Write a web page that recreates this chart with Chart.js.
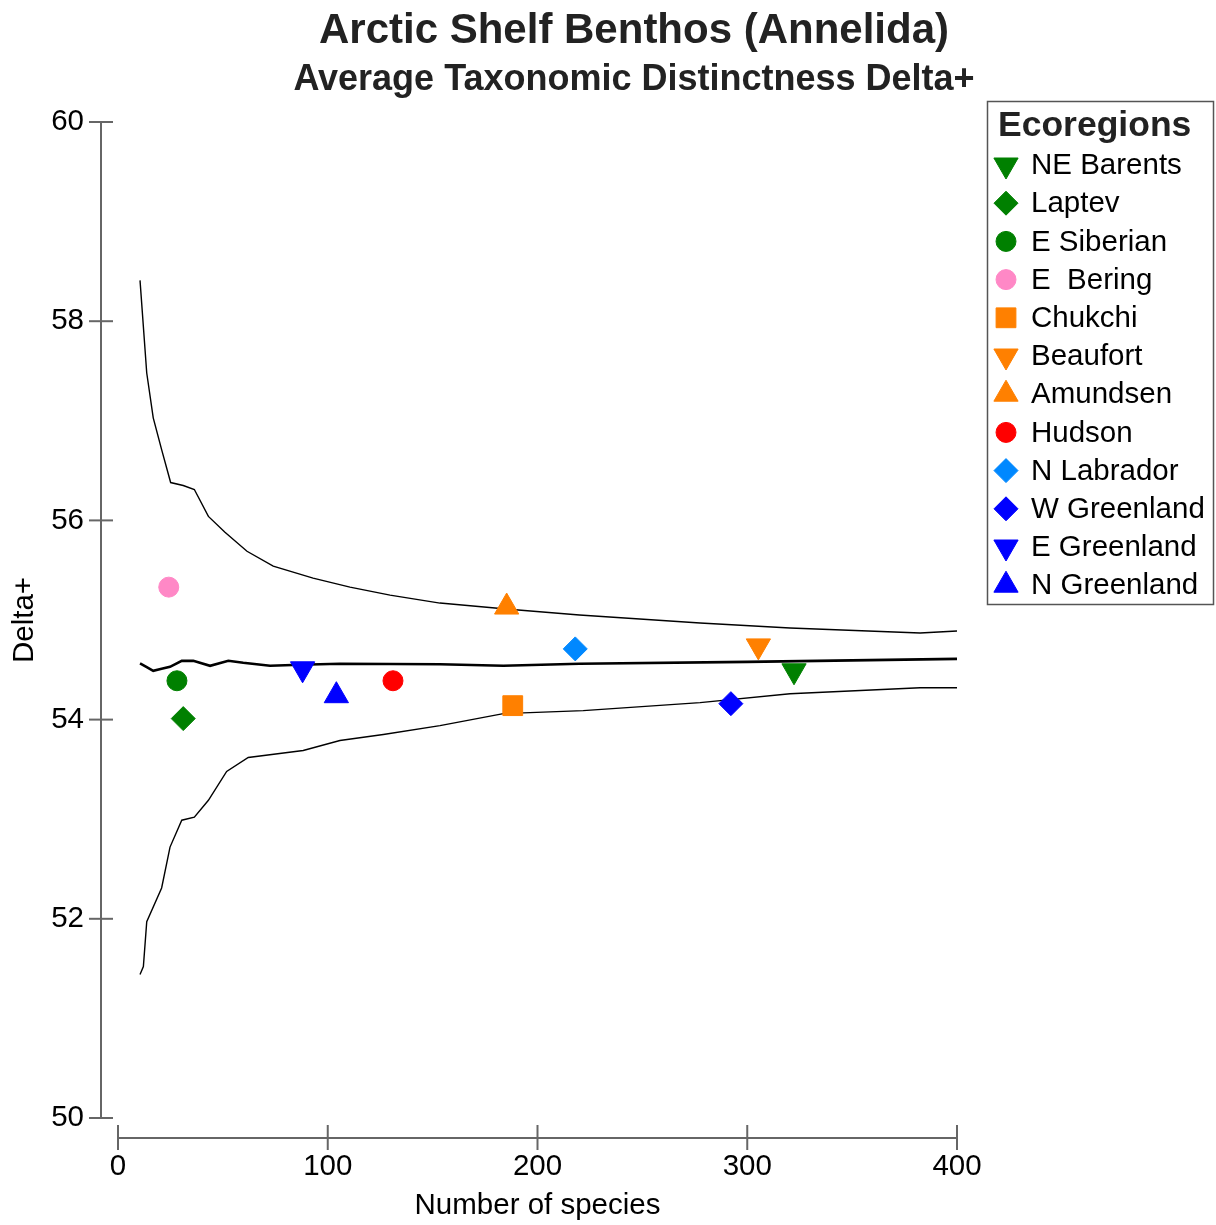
<!DOCTYPE html>
<html lang="en">
<head>
<meta charset="utf-8">
<title>Arctic Shelf Benthos (Annelida)</title>
<script src="https://cdn.jsdelivr.net/npm/chart.js@4.4.0/dist/chart.umd.min.js"></script>
<style>
body{margin:0;background:#fff}
#wrap{position:relative;width:1216px;height:1225px}
</style>
</head>
<body>
<div id="wrap"><canvas id="chart" width="1216" height="1225"></canvas></div>

<script>
/* titles */
const chartTitle = 'Arctic Shelf Benthos (Annelida)';
const chartSubtitle = 'Average Taxonomic Distinctness Delta+';
const xTitle = 'Number of species';
const yTitle = 'Delta+';
const legendTitle = 'Ecoregions';

/* tick labels */
const xTicks = [0, 100, 200, 300, 400];
const yTicks = [50, 52, 54, 56, 58, 60];

/* ecoregions : species count / Delta+ */
const regions = ['NE Barents','Laptev','E Siberian','E  Bering','Chukchi','Beaufort',
                 'Amundsen','Hudson','N Labrador','W Greenland','E Greenland','N Greenland'];
const regionX = [322.3, 31.1, 28.1, 24.2, 188.2, 305.3, 185.3, 131.1, 218.0, 292.2, 88.0, 104.1];
const regionY = [54.49, 54.01, 54.39, 55.33, 54.14, 54.74, 55.13, 54.39, 54.71, 54.16, 54.51, 54.24];

/* funnel: upper 95% limit, mean, lower 95% limit */
const upperX = [10.5, 13.7, 16.8, 20.8, 25.1, 31.1, 36.4, 43.1, 51.0, 61.5, 74.0, 93.0, 110.6, 129.7, 153.5, 185.0, 220.0, 277.5, 320.4, 382.4, 400];
const upperY = [58.41, 57.48, 57.03, 56.71, 56.38, 56.35, 56.31, 56.04, 55.88, 55.69, 55.54, 55.42, 55.33, 55.25, 55.17, 55.11, 55.05, 54.97, 54.92, 54.87, 54.89];
const meanX  = [10.5, 13.5, 16.8, 20.8, 24.8, 30.4, 35.9, 43.9, 52.6, 59.7, 72.5, 86.8, 105.8, 153.5, 183.7, 220.0, 300.0, 400];
const meanY  = [54.565, 54.53, 54.49, 54.51, 54.53, 54.59, 54.59, 54.54, 54.59, 54.57, 54.54, 54.55, 54.56, 54.555, 54.54, 54.56, 54.58, 54.61];
const lowerX = [10.5, 12.1, 13.7, 20.8, 24.8, 30.4, 36.4, 43.1, 51.8, 62.1, 88.3, 105.8, 126.5, 153.5, 183.7, 221.8, 277.5, 320.4, 382.4, 400];
const lowerY = [51.44, 51.52, 51.97, 52.31, 52.72, 52.99, 53.02, 53.19, 53.48, 53.62, 53.69, 53.79, 53.85, 53.94, 54.06, 54.09, 54.17, 54.26, 54.32, 54.32];

/* marker styles */
const regionColors = ['#008000','#008000','#008000','#ff88c6','#ff8000','#ff8000',
                      '#ff8000','#ff0000','#0088ff','#0000ff','#0000ff','#0000ff'];
const regionShapes = ['triangle','rectRot','circle','circle','rect','triangle',
                      'triangle','circle','rectRot','rectRot','triangle','triangle'];
const regionRot    = [180,0,0,0,0,180,0,0,0,0,180,0];
const shapeRadius  = {triangle:14, rectRot:12, circle:10, rect:14};

const FONT = '"Liberation Sans", Arial, sans-serif';
const pts = (xs, ys) => xs.map((x, i) => ({x, y: ys[i]}));

const lineDs = (label, xs, ys, w) => ({
  label, data: pts(xs, ys), showLine: true, borderColor: '#000', borderWidth: w,
  pointRadius: 0, tension: 0, fill: false, order: 20
});

const datasets = [
  lineDs('upper', upperX, upperY, 1.4),
  lineDs('mean',  meanX,  meanY,  2.6),
  lineDs('lower', lowerX, lowerY, 1.4),
  ...regions.map((r, i) => ({
    label: r,
    data: [{x: regionX[i], y: regionY[i]}],
    pointStyle: regionShapes[i],
    rotation: regionRot[i],
    pointRadius: shapeRadius[regionShapes[i]],
    backgroundColor: regionColors[i],
    borderColor: regionColors[i],
    borderWidth: 1,
    order: 1
  }))
];

/* axes, titles and legend drawn through the chart's scales */
const decor = {
  id: 'decor',
  afterDraw(chart){
    const ctx = chart.ctx, xs = chart.scales.x, ys = chart.scales.y;
    ctx.save();

    // title
    ctx.fillStyle = '#222';
    ctx.textAlign = 'center';
    ctx.textBaseline = 'middle';
    ctx.font = 'bold 42px ' + FONT;
    ctx.fillText(chartTitle, 634, 31);
    ctx.font = 'bold 36px ' + FONT;
    ctx.fillText(chartSubtitle, 634, 80);

    // y axis
    ctx.strokeStyle = '#666';
    ctx.lineWidth = 2;
    const yAxisX = 101;
    ctx.beginPath();
    ctx.moveTo(yAxisX, ys.getPixelForValue(yTicks[yTicks.length-1]));
    ctx.lineTo(yAxisX, ys.getPixelForValue(yTicks[0]));
    ctx.stroke();
    ctx.fillStyle = '#000';
    ctx.font = '29.5px ' + FONT;
    ctx.textAlign = 'right';
    yTicks.forEach(v => {
      const py = ys.getPixelForValue(v);
      ctx.beginPath(); ctx.moveTo(89, py); ctx.lineTo(113, py); ctx.stroke();
      ctx.fillText(String(v), 84, py);
    });

    // x axis
    const xAxisY = 1138;
    ctx.beginPath();
    ctx.moveTo(xs.getPixelForValue(xTicks[0]), xAxisY);
    ctx.lineTo(xs.getPixelForValue(xTicks[xTicks.length-1]), xAxisY);
    ctx.stroke();
    ctx.textAlign = 'center';
    xTicks.forEach(v => {
      const px = xs.getPixelForValue(v);
      ctx.beginPath(); ctx.moveTo(px, 1125); ctx.lineTo(px, 1150); ctx.stroke();
      ctx.fillText(String(v), px, 1167);
    });

    // axis titles
    ctx.fillText(xTitle, (xs.left + xs.right) / 2, 1206);
    ctx.save();
    ctx.translate(25, (ys.top + ys.bottom) / 2);
    ctx.rotate(-Math.PI / 2);
    ctx.fillText(yTitle, 0, 0);
    ctx.restore();

    // legend
    ctx.strokeStyle = '#555';
    ctx.lineWidth = 1.5;
    ctx.strokeRect(987.5, 101.5, 226, 503);
    ctx.fillStyle = '#222';
    ctx.textAlign = 'left';
    ctx.font = 'bold 35.5px ' + FONT;
    ctx.fillText(legendTitle, 998, 126);
    ctx.font = '29.5px ' + FONT;
    regions.forEach((r, i) => {
      const cy = 165 + i * 38.2;
      ctx.fillStyle = regionColors[i];
      ctx.strokeStyle = regionColors[i];
      ctx.lineWidth = 1;
      Chart.helpers.drawPoint(ctx, {
        pointStyle: regionShapes[i], rotation: regionRot[i],
        radius: shapeRadius[regionShapes[i]], borderWidth: 1
      }, 1006, cy);
      ctx.fillStyle = '#000';
      ctx.fillText(r, 1031, cy + 1);
    });
    ctx.restore();
  }
};

new Chart(document.getElementById('chart').getContext('2d'), {
  type: 'scatter',
  data: { datasets },
  options: {
    responsive: false,
    animation: false,
    devicePixelRatio: 1,
    layout: { padding: { left: 118, right: 259, top: 122, bottom: 107 } },
    scales: {
      x: { type: 'linear', min: 0, max: 400, display: false },
      y: { type: 'linear', min: 50, max: 60, display: false }
    },
    plugins: { legend: { display: false }, title: { display: false }, tooltip: { enabled: false } }
  },
  plugins: [decor]
});
</script>
</body>
</html>
